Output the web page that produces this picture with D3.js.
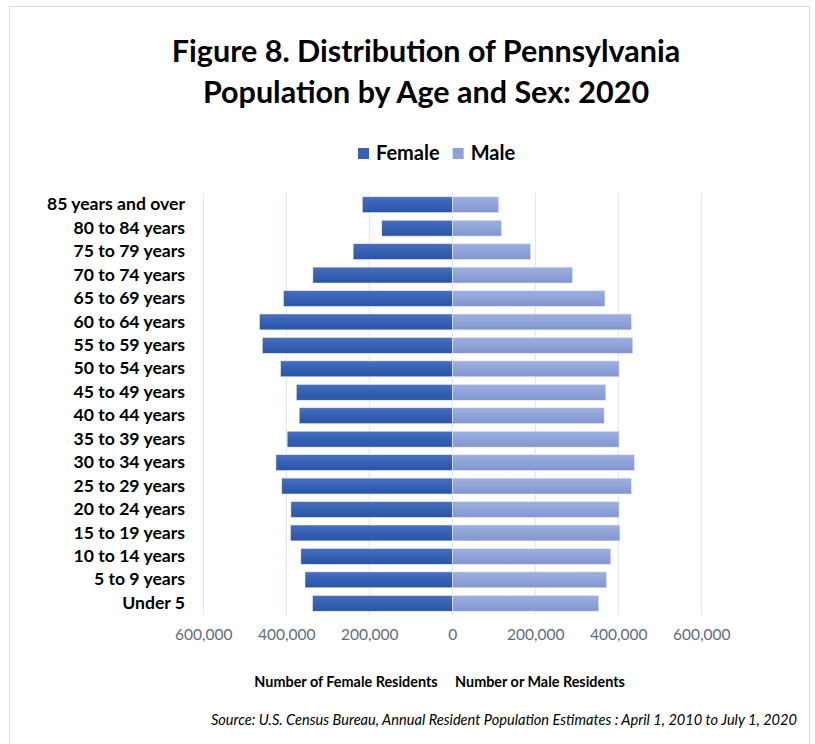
<!DOCTYPE html>
<html>
<head>
<meta charset="utf-8">
<script src="https://cdn.jsdelivr.net/npm/d3@7"></script>
<style>
  body { margin: 0; background: #fff; }
  svg { display: block; font-family: Lato, "Open Sans", sans-serif; }
</style>
</head>
<body>
<div id="chart"></div>
<script>
// age groups, top of the pyramid first
const ageGroups = [
  "85 years and over", "80 to 84 years", "75 to 79 years", "70 to 74 years",
  "65 to 69 years", "60 to 64 years", "55 to 59 years", "50 to 54 years",
  "45 to 49 years", "40 to 44 years", "35 to 39 years", "30 to 34 years",
  "25 to 29 years", "20 to 24 years", "15 to 19 years", "10 to 14 years",
  "5 to 9 years", "Under 5"
];

// residents
const femaleValues = [
  217000, 170000, 239000, 336000, 407000, 465000, 458000, 414000, 376000,
  369000, 398000, 425000, 411000, 389000, 390000, 365000, 355000, 337000
];
const maleValues = [
  112000, 119000, 189000, 290000, 368000, 432000, 435000, 402000, 370000,
  366000, 402000, 439000, 432000, 402000, 404000, 382000, 372000, 353000
];

const seriesNames = ["Female", "Male"];
const tickValues = [-600000, -400000, -200000, 0, 200000, 400000, 600000];

const width = 815;
const height = 744;

const svg = d3.select("#chart")
  .append("svg")
  .attr("width", width)
  .attr("height", height);

//gradients like the excel bars
const defs = svg.append("defs");
const grads = [
  {id: "gFemale", stops: ["#4a6fc0", "#3560b3", "#2a55a7"]},
  {id: "gMale", stops: ["#9db0df", "#90a3d8", "#8295cf"]}
];
grads.forEach(g => {
  const lg = defs.append("linearGradient")
    .attr("id", g.id)
    .attr("x1", 0).attr("y1", 0).attr("x2", 0).attr("y2", 1);
  g.stops.forEach((c, i) => {
    lg.append("stop").attr("offset", i / 2).attr("stop-color", c);
  });
});

// frame
svg.append("rect")
  .attr("x", 9.5).attr("y", 6.5)
  .attr("width", 800).attr("height", 760)
  .attr("fill", "none")
  .attr("stroke", "#d9d9d9");

// title
svg.append("text")
  .attr("text-anchor", "middle")
  .attr("font-weight", "bold")
  .attr("font-size", 30.5)
  .attr("fill", "#000")
  .selectAll("tspan")
  .data(["Figure 8. Distribution of Pennsylvania", "Population by Age and Sex: 2020"])
  .enter()
  .append("tspan")
  .attr("x", 426)
  .attr("y", (d, i) => 62 + i * 41)
  .text(d => d);

// scales
const x = d3.scaleLinear()
  .domain([-600000, 600000])
  .range([203.3, 701.3]);

const y = d3.scaleBand()
  .domain(ageGroups)
  .range([193, 615])
  .paddingInner(0.32)
  .paddingOuter(0.16);

// gridlines
svg.append("g")
  .selectAll("line")
  .data(tickValues)
  .enter()
  .append("line")
  .attr("x1", d => x(d))
  .attr("x2", d => x(d))
  .attr("y1", 193)
  .attr("y2", 615)
  .attr("stroke", "#dde3ee")
  .attr("stroke-width", 1);

// bars
const rows = ageGroups.map((g, i) => ({group: g, female: femaleValues[i], male: maleValues[i]}));

svg.append("g")
  .selectAll("rect")
  .data(rows)
  .enter()
  .append("rect")
  .attr("x", d => x(-d.female))
  .attr("y", d => y(d.group))
  .attr("width", d => x(0) - x(-d.female))
  .attr("height", y.bandwidth())
  .attr("fill", "url(#gFemale)")
  .attr("stroke", "#eef1f8")
  .attr("stroke-width", 0.6);

svg.append("g")
  .selectAll("rect")
  .data(rows)
  .enter()
  .append("rect")
  .attr("x", x(0))
  .attr("y", d => y(d.group))
  .attr("width", d => x(d.male) - x(0))
  .attr("height", y.bandwidth())
  .attr("fill", "url(#gMale)")
  .attr("stroke", "#eef1f8")
  .attr("stroke-width", 0.6);

// category labels
const yAxis = svg.append("g")
  .attr("transform", "translate(190,0)")
  .call(d3.axisLeft(y).tickSize(0).tickPadding(5));
yAxis.select(".domain").remove();
yAxis.selectAll("text")
  .attr("font-family", "Lato, sans-serif")
  .attr("font-size", 17.6)
  .attr("font-weight", "bold")
  .attr("fill", "#000");

// value axis, absolute numbers both sides
const xAxis = svg.append("g")
  .attr("transform", "translate(0,615)")
  .call(d3.axisBottom(x)
    .tickValues(tickValues)
    .tickSize(0)
    .tickPadding(14)
    .tickFormat(d => d3.format(",")(Math.abs(d))));
xAxis.select(".domain").remove();
xAxis.selectAll("text")
  .attr("font-family", "Lato, sans-serif")
  .attr("font-size", 15.5)
  .attr("fill", "#5f6b80");

// axis titles
const axisTitles = [
  {text: "Number of Female Residents", x: 346},
  {text: "Number or Male Residents", x: 540}
];
svg.selectAll(".axisTitle")
  .data(axisTitles)
  .enter()
  .append("text")
  .attr("class", "axisTitle")
  .attr("x", d => d.x)
  .attr("y", 687)
  .attr("text-anchor", "middle")
  .attr("font-size", 14.4)
  .attr("font-weight", "bold")
  .attr("fill", "#000")
  .text(d => d.text);

// legend
const legend = svg.append("g");
const legendColors = ["#3560b3", "#90a3d8"];
let lx = 358;
seriesNames.forEach((name, i) => {
  legend.append("rect")
    .attr("x", lx).attr("y", 148)
    .attr("width", 11).attr("height", 11)
    .attr("fill", legendColors[i]);
  const t = legend.append("text")
    .attr("x", lx + 18).attr("y", 160)
    .attr("font-size", 20)
    .attr("font-weight", "bold")
    .attr("fill", "#000")
    .text(name);
  lx += 18 + t.node().getComputedTextLength() + 13;
});

// source note
svg.append("text")
  .attr("x", 797)
  .attr("y", 725)
  .attr("text-anchor", "end")
  .attr("font-size", 14.6)
  .attr("font-style", "italic")
  .attr("fill", "#000")
  .text("Source: U.S. Census Bureau, Annual Resident Population Estimates : April 1, 2010 to July 1, 2020");
</script>
</body>
</html>
